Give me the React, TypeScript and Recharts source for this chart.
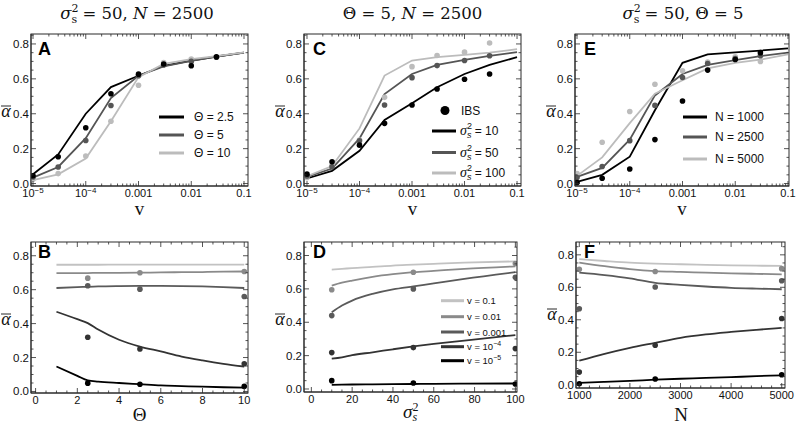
import React from 'react';
import { ComposedChart, Line, Scatter, XAxis, YAxis } from 'recharts';

// ---------------- data ----------------
const vValues = [1e-5, 3e-5, 1e-4, 3e-4, 1e-3, 3e-3, 1e-2, 3e-2, 1e-1];
const vMajorTicks = [1e-5, 1e-4, 1e-3, 1e-2, 1e-1];
const vMajorLabels = ['10^−5', '10^−4', '0.001', '0.01', '0.1'];
const yMajorTicks = [0, 0.2, 0.4, 0.6, 0.8];
const yMajorLabels = ['0.0', '0.2', '0.4', '0.6', '0.8'];

// Panel A (sigma^2 = 50, N = 2500), vary Theta
const aLineTheta25 = [0.053, 0.167, 0.4, 0.553, 0.618, 0.675, 0.705, 0.728, 0.75];
const aLineTheta5 = [0.034, 0.095, 0.26, 0.49, 0.618, 0.672, 0.703, 0.727, 0.75];
const aLineTheta10 = [0.02, 0.053, 0.143, 0.357, 0.61, 0.686, 0.713, 0.73, 0.752];
const aDotsTheta25 = [0.045, 0.154, 0.32, 0.515, 0.627, 0.685, 0.675, 0.726, null];
const aDotsTheta5 = [0.038, 0.095, 0.247, 0.447, 0.618, 0.68, 0.7, 0.724, null];
const aDotsTheta10 = [0.025, 0.057, 0.158, 0.357, 0.563, 0.694, 0.713, 0.724, null];

// Panel C (Theta = 5, N = 2500), vary sigma^2
const cLineSigma10 = [0.029, 0.073, 0.188, 0.364, 0.46, 0.552, 0.628, 0.68, 0.724];
const cLineSigma50 = [0.038, 0.086, 0.259, 0.513, 0.628, 0.68, 0.709, 0.732, 0.753];
const cLineSigma100 = [0.042, 0.1, 0.316, 0.619, 0.705, 0.724, 0.737, 0.75, 0.77];
const cDotsSigma10 = [0.054, 0.125, 0.22, 0.345, 0.45, 0.542, 0.598, 0.628, null];
const cDotsSigma50 = [0.044, 0.096, 0.245, 0.45, 0.607, 0.676, 0.705, 0.732, null];
const cDotsSigma100 = [0.034, 0.105, 0.249, 0.494, 0.67, 0.734, 0.753, 0.805, null];

// Panel E (sigma^2 = 50, Theta = 5), vary N
const eLineN1000 = [0.01, 0.05, 0.154, 0.42, 0.692, 0.74, 0.752, 0.762, 0.775];
const eLineN2500 = [0.038, 0.09, 0.252, 0.505, 0.628, 0.68, 0.707, 0.73, 0.75];
const eLineN5000 = [0.044, 0.15, 0.346, 0.515, 0.592, 0.66, 0.692, 0.71, 0.74];
const eDotsN1000 = [0.006, 0.03, 0.083, 0.252, 0.473, 0.65, 0.711, 0.75, null];
const eDotsN2500 = [0.035, 0.098, 0.246, 0.448, 0.608, 0.688, 0.717, 0.733, null];
const eDotsN5000 = [0.058, 0.237, 0.413, 0.569, 0.646, 0.696, 0.727, 0.7, null];

// Panel B: alpha vs Theta
const thetaGrid = [1, 2, 2.5, 3, 4, 5, 6, 7, 8, 9, 10];
const thetaDotX = [2.5, 5, 10];
const bLineV1e1 = [0.747, 0.747, 0.747, 0.747, 0.748, 0.748, 0.748, 0.748, 0.748, 0.748, 0.748];
const bLineV1e2 = [0.697, 0.698, 0.698, 0.699, 0.699, 0.7, 0.702, 0.703, 0.704, 0.706, 0.707];
const bLineV1e3 = [0.61, 0.615, 0.617, 0.619, 0.621, 0.622, 0.622, 0.621, 0.619, 0.615, 0.61];
const bLineV1e4 = [0.47, 0.426, 0.403, 0.365, 0.305, 0.265, 0.236, 0.206, 0.183, 0.163, 0.147];
const bLineV1e5 = [0.147, 0.092, 0.065, 0.058, 0.05, 0.043, 0.036, 0.032, 0.028, 0.025, 0.023];
const bDotsV1e2 = [0.668, 0.7, 0.707];
const bDotsV1e3 = [0.623, 0.603, 0.56];
const bDotsV1e4 = [0.32, 0.25, 0.163];
const bDotsV1e5 = [0.049, 0.043, 0.03];

// Panel D: alpha vs sigma^2
const sigmaGrid = [10, 15, 20, 30, 40, 50, 60, 75, 100];
const sigmaDotX = [10, 50, 100];
const dLineV1e1 = [0.716, 0.72, 0.725, 0.732, 0.74, 0.745, 0.75, 0.757, 0.765];
const dLineV1e2 = [0.62, 0.637, 0.65, 0.672, 0.688, 0.7, 0.708, 0.72, 0.735];
const dLineV1e3 = [0.46, 0.5, 0.53, 0.57, 0.597, 0.615, 0.633, 0.66, 0.7];
const dLineV1e4 = [0.182, 0.19, 0.203, 0.22, 0.238, 0.255, 0.27, 0.29, 0.323];
const dLineV1e5 = [0.025, 0.026, 0.027, 0.028, 0.029, 0.03, 0.031, 0.032, 0.033];
const dDotsV1e2 = [0.595, 0.7, 0.752];
const dDotsV1e3 = [0.44, 0.6, 0.67];
const dDotsV1e4 = [0.218, 0.248, 0.242];
const dDotsV1e5 = [0.05, 0.036, 0.03];

// Panel F: alpha vs N
const nGrid = [1000, 1500, 2000, 2500, 3000, 3500, 4000, 4500, 5000];
const nDotX = [1000, 2500, 5000];
const fLineV1e1 = [0.773, 0.762, 0.752, 0.746, 0.742, 0.738, 0.735, 0.733, 0.732];
const fLineV1e2 = [0.752, 0.73, 0.712, 0.7, 0.695, 0.69, 0.686, 0.683, 0.68];
const fLineV1e3 = [0.69, 0.675, 0.655, 0.627, 0.615, 0.605, 0.597, 0.592, 0.588];
const fLineV1e4 = [0.148, 0.19, 0.227, 0.258, 0.289, 0.31, 0.325, 0.338, 0.35];
const fLineV1e5 = [0.012, 0.018, 0.024, 0.031, 0.037, 0.042, 0.047, 0.053, 0.058];
const fDotsV1e2 = [0.711, 0.697, 0.715];
const fDotsV1e3 = [0.468, 0.602, 0.64];
const fDotsV1e4 = [0.078, 0.243, 0.408];
const fDotsV1e5 = [0.006, 0.035, 0.062];

const thetaMajor = [0, 2, 4, 6, 8, 10];
const sigmaMajor = [0, 20, 40, 60, 80, 100];
const nMajor = [1000, 2000, 3000, 4000, 5000];

// ---------------- styles ----------------
const SANS = '"Liberation Sans", Arial, sans-serif';
const SERIF = '"Liberation Serif", "Times New Roman", serif';
const TITLE_FONT = '"DejaVu Serif", serif';
const FRAME = '#2a2a2a';
const BLACK = '#000000';
const DARK = '#555555';
const LIGHT = '#bcbcbc';
const V1 = '#c2c2c2';
const V2 = '#8a8a8a';
const V3 = '#5a5a5a';
const V4 = '#333333';
const V5 = '#000000';

type Pt = { x: number; y: number };
type Series = { color: string; points: Pt[] };
type Box = [number, number, number, number];

const zip = (xs: number[], ys: (number | null)[]): Pt[] =>
  xs.map((x, i) => ({ x, y: ys[i] as number })).filter((p) => p.y !== null && p.y !== undefined);

const near = (v: number, m: number) => Math.abs(m - v) <= Math.max(Math.abs(m), 1e-9) * 1e-6;

function rangeTicks(a: number, b: number, step: number) {
  const out: number[] = [];
  for (let i = 0; a + i * step <= b + step * 1e-6; i++) out.push(+(a + i * step).toFixed(6));
  return out;
}
function logTicks() {
  const out: number[] = [];
  for (let e = -5; e <= -2; e++) for (let k = 1; k <= 9; k++) out.push(+(k * Math.pow(10, e)).toPrecision(3));
  out.push(0.1);
  return out;
}

const renderLabel = (label: string) => {
  if (label.includes('^')) {
    const [base, exp] = label.split('^');
    return (
      <>
        {base}
        <tspan dy={-4} fontSize={8}>{exp}</tspan>
      </>
    );
  }
  return label;
};

// bottom axis ticks: inward marks at bottom and (mirrored) top edge, labels below
function makeBottomTick(majors: number[], labels: string[], plotH: number) {
  return (props: any) => {
    const { x, y, payload } = props;
    const v = payload.value as number;
    const idx = majors.findIndex((m) => near(v, m));
    const len = idx >= 0 ? 5 : 2.5;
    return (
      <g>
        <line x1={x} x2={x} y1={y} y2={y - len} stroke={FRAME} strokeWidth={0.8} />
        <line x1={x} x2={x} y1={y - plotH} y2={y - plotH + len} stroke={FRAME} strokeWidth={0.8} />
        {idx >= 0 ? (
          <text x={x} y={y + 11} textAnchor="middle" fontFamily={SANS} fontSize={11} fill="#111">
            {renderLabel(labels[idx])}
          </text>
        ) : null}
      </g>
    );
  };
}
// left axis ticks: inward marks at left and (mirrored) right edge, labels left
function makeLeftTick(plotW: number) {
  return (props: any) => {
    const { x, y, payload } = props;
    const idx = yMajorTicks.findIndex((m) => Math.abs(m - payload.value) < 1e-6);
    const len = idx >= 0 ? 5 : 2.5;
    return (
      <g>
        <line x1={x} x2={x + len} y1={y} y2={y} stroke={FRAME} strokeWidth={0.8} />
        <line x1={x + plotW} x2={x + plotW - len} y1={y} y2={y} stroke={FRAME} strokeWidth={0.8} />
        {idx >= 0 ? (
          <text x={x - 2} y={y + 4} textAnchor="end" fontFamily={SANS} fontSize={11.5} fill="#111">
            {yMajorLabels[idx]}
          </text>
        ) : null}
      </g>
    );
  };
}

const yAllTicks = rangeTicks(0, 0.85, 0.05);

interface PanelProps {
  box: Box;
  log?: boolean;
  xDomain: [number, number];
  yDomain: [number, number];
  xTicks: number[];
  xMajors: number[];
  xLabels: string[];
  lines: Series[];
  dots: Series[];
  curve: 'linear' | 'monotone';
}

function Panel(p: PanelProps) {
  const ML = 40;
  const MR = 16;
  const MT = 10;
  const MB = 26;
  const w = p.box[2] - p.box[0];
  const h = p.box[3] - p.box[1];
  return (
    <div style={{ position: 'absolute', left: p.box[0] - ML, top: p.box[1] - MT }}>
      <ComposedChart width={w + ML + MR} height={h + MT + MB} margin={{ top: MT, right: MR, bottom: 0, left: 0 }}>
        <XAxis
          xAxisId="b"
          orientation="bottom"
          height={MB}
          type="number"
          scale={p.log ? 'log' : 'linear'}
          domain={p.xDomain}
          allowDataOverflow
          ticks={p.xTicks}
          interval={0}
          tickSize={0}
          tickMargin={0}
          tickLine={false}
          axisLine={{ stroke: FRAME, strokeWidth: 1 }}
          dataKey="x"
          tick={makeBottomTick(p.xMajors, p.xLabels, h)}
        />
        <YAxis
          yAxisId="l"
          orientation="left"
          width={ML}
          type="number"
          domain={p.yDomain}
          allowDataOverflow
          ticks={yAllTicks}
          interval={0}
          tickSize={0}
          tickMargin={0}
          tickLine={false}
          axisLine={{ stroke: FRAME, strokeWidth: 1 }}
          dataKey="y"
          tick={makeLeftTick(w)}
        />
        {p.lines.map((s, i) => (
          <Line
            key={'l' + i}
            xAxisId="b"
            yAxisId="l"
            data={s.points}
            dataKey="y"
            type={p.curve}
            stroke={s.color}
            strokeWidth={1.8}
            dot={false}
            activeDot={false}
            isAnimationActive={false}
          />
        ))}
        {p.dots.map((s, i) => (
          <Scatter
            key={'d' + i}
            xAxisId="b"
            yAxisId="l"
            data={s.points}
            dataKey="y"
            fill={s.color}
            isAnimationActive={false}
            shape={(sp: any) => <circle cx={sp.cx} cy={sp.cy} r={2.8} fill={s.color} />}
          />
        ))}
      </ComposedChart>
    </div>
  );
}

const vTicksAll = logTicks();
const thetaTicksAll = rangeTicks(0, 10, 0.5);
const sigmaTicksAll = rangeTicks(0, 100, 5);
const nTicksAll = rangeTicks(1000, 5000, 200);

const boxA: Box = [31, 34, 248, 186];
const boxC: Box = [304, 34, 521, 186];
const boxE: Box = [575, 34, 789, 186];
const boxB: Box = [31, 242, 248, 393];
const boxD: Box = [304, 242, 517, 392];
const boxF: Box = [576, 242, 785, 388];

const Alpha = ({ x, y }: { x: number; y: number }) => (
  <g>
    <text x={x} y={y} textAnchor="middle" fontFamily={SERIF} fontStyle="italic" fontSize={18} fill="#111">
      α
    </text>
    <line x1={x - 5} x2={x + 5} y1={y - 11} y2={y - 11} stroke="#111" strokeWidth={0.9} />
  </g>
);

const LegendLine = ({ x1, x2, y, color }: { x1: number; x2: number; y: number; color: string }) => (
  <line x1={x1} x2={x2} y1={y} y2={y} stroke={color} strokeWidth={3} />
);

const SigmaTitle = () => (
  <>
    <tspan fontStyle="italic">σ</tspan>
    <tspan dy={-7} fontSize={11}>2</tspan>
    <tspan dx={-7} dy={11} fontSize={11}>s</tspan>
    <tspan dy={-4}>{' = 50, '}</tspan>
  </>
);

export default function App() {
  const letterStyle = { fontFamily: SANS, fontWeight: 700, fontSize: 18, fill: '#000' } as const;
  return (
    <div style={{ position: 'absolute', left: 0, top: 0, width: 797, height: 427, background: '#fff', overflow: 'hidden' }}>
      <Panel
        box={boxA}
        log
        xDomain={[9.16e-6, 0.119]}
        yDomain={[-0.014, 0.857]}
        xTicks={vTicksAll}
        xMajors={vMajorTicks}
        xLabels={vMajorLabels}
        curve="linear"
        lines={[
          { color: BLACK, points: zip(vValues, aLineTheta25) },
          { color: DARK, points: zip(vValues, aLineTheta5) },
          { color: LIGHT, points: zip(vValues, aLineTheta10) },
        ]}
        dots={[
          { color: LIGHT, points: zip(vValues, aDotsTheta10) },
          { color: DARK, points: zip(vValues, aDotsTheta5) },
          { color: BLACK, points: zip(vValues, aDotsTheta25) },
        ]}
      />
      <Panel
        box={boxC}
        log
        xDomain={[8.77e-6, 0.119]}
        yDomain={[-0.014, 0.857]}
        xTicks={vTicksAll}
        xMajors={vMajorTicks}
        xLabels={vMajorLabels}
        curve="linear"
        lines={[
          { color: BLACK, points: zip(vValues, cLineSigma10) },
          { color: DARK, points: zip(vValues, cLineSigma50) },
          { color: LIGHT, points: zip(vValues, cLineSigma100) },
        ]}
        dots={[
          { color: LIGHT, points: zip(vValues, cDotsSigma100) },
          { color: DARK, points: zip(vValues, cDotsSigma50) },
          { color: BLACK, points: zip(vValues, cDotsSigma10) },
        ]}
      />
      <Panel
        box={boxE}
        log
        xDomain={[9.16e-6, 0.1045]}
        yDomain={[-0.014, 0.857]}
        xTicks={vTicksAll}
        xMajors={vMajorTicks}
        xLabels={vMajorLabels}
        curve="linear"
        lines={[
          { color: BLACK, points: zip(vValues, eLineN1000) },
          { color: DARK, points: zip(vValues, eLineN2500) },
          { color: LIGHT, points: zip(vValues, eLineN5000) },
        ]}
        dots={[
          { color: LIGHT, points: zip(vValues, eDotsN5000) },
          { color: DARK, points: zip(vValues, eDotsN2500) },
          { color: BLACK, points: zip(vValues, eDotsN1000) },
        ]}
      />
      <Panel
        box={boxB}
        xDomain={[-0.22, 10.18]}
        yDomain={[-0.009, 0.881]}
        xTicks={thetaTicksAll}
        xMajors={thetaMajor}
        xLabels={thetaMajor.map(String)}
        curve="monotone"
        lines={[
          { color: V1, points: zip(thetaGrid, bLineV1e1) },
          { color: V2, points: zip(thetaGrid, bLineV1e2) },
          { color: V3, points: zip(thetaGrid, bLineV1e3) },
          { color: V4, points: zip(thetaGrid, bLineV1e4) },
          { color: V5, points: zip(thetaGrid, bLineV1e5) },
        ]}
        dots={[
          { color: V2, points: zip(thetaDotX, bDotsV1e2) },
          { color: V3, points: zip(thetaDotX, bDotsV1e3) },
          { color: V4, points: zip(thetaDotX, bDotsV1e4) },
          { color: V5, points: zip(thetaDotX, bDotsV1e5) },
        ]}
      />
      <Panel
        box={boxD}
        xDomain={[-3.6, 100.8]}
        yDomain={[-0.018, 0.881]}
        xTicks={sigmaTicksAll}
        xMajors={sigmaMajor}
        xLabels={sigmaMajor.map(String)}
        curve="monotone"
        lines={[
          { color: V1, points: zip(sigmaGrid, dLineV1e1) },
          { color: V2, points: zip(sigmaGrid, dLineV1e2) },
          { color: V3, points: zip(sigmaGrid, dLineV1e3) },
          { color: V4, points: zip(sigmaGrid, dLineV1e4) },
          { color: V5, points: zip(sigmaGrid, dLineV1e5) },
        ]}
        dots={[
          { color: V2, points: zip(sigmaDotX, dDotsV1e2) },
          { color: V3, points: zip(sigmaDotX, dDotsV1e3) },
          { color: V4, points: zip(sigmaDotX, dDotsV1e4) },
          { color: V5, points: zip(sigmaDotX, dDotsV1e5) },
        ]}
      />
      <Panel
        box={boxF}
        xDomain={[935, 5065]}
        yDomain={[-0.02, 0.879]}
        xTicks={nTicksAll}
        xMajors={nMajor}
        xLabels={nMajor.map(String)}
        curve="monotone"
        lines={[
          { color: V1, points: zip(nGrid, fLineV1e1) },
          { color: V2, points: zip(nGrid, fLineV1e2) },
          { color: V3, points: zip(nGrid, fLineV1e3) },
          { color: V4, points: zip(nGrid, fLineV1e4) },
          { color: V5, points: zip(nGrid, fLineV1e5) },
        ]}
        dots={[
          { color: V2, points: zip(nDotX, fDotsV1e2) },
          { color: V3, points: zip(nDotX, fDotsV1e3) },
          { color: V4, points: zip(nDotX, fDotsV1e4) },
          { color: V5, points: zip(nDotX, fDotsV1e5) },
        ]}
      />

      <svg
        width={797}
        height={427}
        style={{ position: 'absolute', left: 0, top: 0, pointerEvents: 'none', overflow: 'visible' }}
      >
        {/* plot frames (top and right edges) */}
        {[boxA, boxC, boxE, boxB, boxD, boxF].map((b, i) => (
          <rect key={i} x={b[0]} y={b[1]} width={b[2] - b[0]} height={b[3] - b[1]} fill="none" stroke={FRAME} strokeWidth={1} />
        ))}

        {/* titles */}
        <text x={137} y={19} textAnchor="middle" fontFamily={TITLE_FONT} fontSize={16.5} fill="#111" style={{ whiteSpace: 'pre' }}>
          <SigmaTitle />
          <tspan fontStyle="italic">N</tspan>
          <tspan>{' = 2500'}</tspan>
        </text>
        <text x={412.5} y={19} textAnchor="middle" fontFamily={TITLE_FONT} fontSize={16.5} fill="#111" style={{ whiteSpace: 'pre' }}>
          <tspan>{'Θ = 5, '}</tspan>
          <tspan fontStyle="italic">N</tspan>
          <tspan>{' = 2500'}</tspan>
        </text>
        <text x={683} y={19} textAnchor="middle" fontFamily={TITLE_FONT} fontSize={16.5} fill="#111" style={{ whiteSpace: 'pre' }}>
          <SigmaTitle />
          <tspan>{'Θ = 5'}</tspan>
        </text>

        {/* panel letters */}
        <text x={38} y={55} {...letterStyle}>A</text>
        <text x={313} y={55} {...letterStyle}>C</text>
        <text x={584} y={55} {...letterStyle}>E</text>
        <text x={38} y={258} {...letterStyle}>B</text>
        <text x={313} y={258} {...letterStyle}>D</text>
        <text x={584} y={258} {...letterStyle}>F</text>

        {/* x-axis labels */}
        {[139.5, 412.5, 682].map((cx) => (
          <text key={cx} x={cx} y={215} textAnchor="middle" fontFamily={SERIF} fontSize={19} fill="#111">
            v
          </text>
        ))}
        <text x={139.5} y={421} textAnchor="middle" fontFamily={SERIF} fontSize={19} fill="#111">Θ</text>
        <text x={403} y={418} fontFamily={SERIF} fontSize={19} fill="#111">
          <tspan fontStyle="italic">σ</tspan>
          <tspan dy={-7} fontSize={12}>2</tspan>
          <tspan dx={-6} dy={10} fontSize={12} fontStyle="italic">s</tspan>
        </text>
        <text x={681} y={421} textAnchor="middle" fontFamily={SERIF} fontSize={19} fill="#111">N</text>

        {/* y-axis labels */}
        <Alpha x={6} y={117} />
        <Alpha x={280} y={117} />
        <Alpha x={551} y={117} />
        <Alpha x={6} y={325} />
        <Alpha x={280} y={325} />
        <Alpha x={552} y={320} />

        {/* legend A */}
        <LegendLine x1={159} x2={184} y={117} color={BLACK} />
        <LegendLine x1={159} x2={184} y={135} color={DARK} />
        <LegendLine x1={159} x2={184} y={153} color={LIGHT} />
        <text x={194} y={121} fontFamily={SANS} fontSize={12} fill="#111">Θ = 2.5</text>
        <text x={194} y={139} fontFamily={SANS} fontSize={12} fill="#111">Θ = 5</text>
        <text x={194} y={157} fontFamily={SANS} fontSize={12} fill="#111">Θ = 10</text>

        {/* legend C */}
        <circle cx={445} cy={110.5} r={4.5} fill="#000" />
        <text x={461} y={115} fontFamily={SANS} fontSize={12} fill="#111">IBS</text>
        {[
          { y: 131, c: BLACK, t: '10' },
          { y: 152.5, c: DARK, t: '50' },
          { y: 173, c: LIGHT, t: '100' },
        ].map((r) => (
          <g key={r.t}>
            <LegendLine x1={432} x2={456} y={r.y} color={r.c} />
            <text x={460} y={r.y + 4} fontFamily={SANS} fontSize={12} fill="#111">
              <tspan fontFamily={SERIF} fontStyle="italic" fontSize={14}>σ</tspan>
              <tspan dy={-6} fontSize={9}>2</tspan>
              <tspan dx={-5} dy={9} fontSize={9} fontStyle="italic">s</tspan>
              <tspan dy={-3}>{' = ' + r.t}</tspan>
            </text>
          </g>
        ))}

        {/* legend E */}
        <LegendLine x1={683} x2={707} y={117} color={BLACK} />
        <LegendLine x1={683} x2={707} y={137} color={DARK} />
        <LegendLine x1={683} x2={707} y={159} color={LIGHT} />
        <text x={715} y={121} fontFamily={SANS} fontSize={12} fill="#111">N = 1000</text>
        <text x={715} y={141} fontFamily={SANS} fontSize={12} fill="#111">N = 2500</text>
        <text x={715} y={163} fontFamily={SANS} fontSize={12} fill="#111">N = 5000</text>

        {/* legend D */}
        {[
          { y: 300.7, c: V1, t: 'v = 0.1' },
          { y: 316.7, c: V2, t: 'v = 0.01' },
          { y: 332, c: V3, t: 'v = 0.001' },
          { y: 346.7, c: V4, t: 'v = 10^−4' },
          { y: 360.7, c: V5, t: 'v = 10^−5' },
        ].map((r) => (
          <g key={r.t}>
            <LegendLine x1={441} x2={464} y={r.y} color={r.c} />
            <text x={467} y={r.y + 3.5} fontFamily={SANS} fontSize={9.5} fill="#111">
              {r.t.includes('^') ? (
                <>
                  {r.t.split('^')[0]}
                  <tspan dy={-4} fontSize={7}>{r.t.split('^')[1]}</tspan>
                </>
              ) : (
                r.t
              )}
            </text>
          </g>
        ))}
      </svg>
    </div>
  );
}
